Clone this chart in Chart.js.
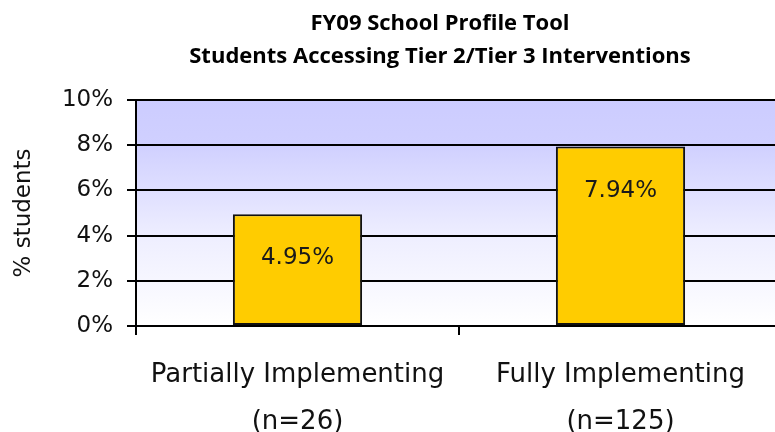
<!DOCTYPE html>
<html>
<head>
<meta charset="utf-8">
<script src="https://cdn.jsdelivr.net/npm/chart.js@4"></script>
<style>
html,body{margin:0;padding:0;background:#fff;overflow:hidden;}
#wrap{width:783px;height:432px;position:relative;}
</style>
</head>
<body>
<div id="wrap"><canvas id="c"></canvas></div>
<script>
const titleLines = ['FY09 School Profile Tool', 'Students Accessing Tier 2/Tier 3 Interventions'];
const categories = [['Partially Implementing', '(n=26)'], ['Fully Implementing', '(n=125)']];
const values = [4.95, 7.94];
const valueLabels = ['4.95%', '7.94%'];
const yTicks = [0, 2, 4, 6, 8, 10];
const yTitle = '% students';

const tickFont = "'DejaVu Sans', sans-serif";

const bgPlugin = {
  id: 'bg',
  beforeDraw(chart) {
    const {ctx, chartArea: a} = chart;
    const g = ctx.createLinearGradient(0, a.top, 0, a.bottom);
    g.addColorStop(0, '#CCCCFF');
    g.addColorStop(0.2, '#D0D0FF');
    g.addColorStop(0.6, '#EEEEFF');
    g.addColorStop(1, '#FFFFFF');
    ctx.save();
    ctx.fillStyle = g;
    ctx.fillRect(a.left, a.top, a.right - a.left, a.bottom - a.top);
    ctx.restore();
  }
};

const labelPlugin = {
  id: 'vlabels',
  afterDatasetsDraw(chart) {
    const {ctx} = chart;
    const meta = chart.getDatasetMeta(0);
    ctx.save();
    ctx.font = "23px " + tickFont;
    ctx.fillStyle = '#1a1a1a';
    ctx.textAlign = 'center';
    ctx.textBaseline = 'middle';
    meta.data.forEach((bar, i) => {
      ctx.fillText(valueLabels[i], bar.x, bar.y + 44);
    });
    ctx.restore();
  }
};

const titlePlugin = {
  id: 'ttl',
  afterDraw(chart) {
    const {ctx} = chart;
    ctx.save();
    ctx.font = "bold 22px 'Open Sans', sans-serif";
    ctx.fillStyle = '#000';
    ctx.textAlign = 'center';
    ctx.textBaseline = 'middle';
    ctx.fillText(titleLines[0], 440, 24);
    ctx.fillText(titleLines[1], 440, 57);
    ctx.restore();
  }
};

new Chart(document.getElementById('c'), {
  type: 'bar',
  data: {
    labels: categories,
    datasets: [{
      data: values,
      backgroundColor: '#FFCC00',
      borderColor: '#111',
      borderWidth: 2,
      borderSkipped: false,
      barPercentage: 0.4,
      categoryPercentage: 1.0
    }]
  },
  options: {
    responsive: true,
    maintainAspectRatio: false,
    animation: false,
    layout: {padding: {left: 0, top: 100, right: 1, bottom: 0}},
    plugins: {legend: {display: false}, tooltip: {enabled: false}, title: {display: false}},
    scales: {
      x: {
        grid: {display: true, offset: true, drawOnChartArea: false, drawTicks: true, tickLength: 9, color: '#000', lineWidth: 2},
        border: {display: true, color: '#000', width: 2},
        ticks: {color: '#111', font: {family: tickFont, size: 26, lineHeight: 1.8}, padding: 17, maxRotation: 0},
        afterFit(s) { s.height = 106; }
      },
      y: {
        min: 0, max: 10,
        afterBuildTicks(s) { s.ticks = yTicks.map(v => ({value: v})); },
        grid: {display: true, color: '#000', lineWidth: 2, tickLength: 9, drawTicks: true},
        border: {display: true, color: '#000', width: 2},
        ticks: {color: '#111', font: {family: tickFont, size: 23}, padding: 14, callback: v => v + '%'},
        title: {display: true, text: yTitle, color: '#111', font: {family: tickFont, size: 23}, padding: {top: 10, bottom: 0}},
        afterFit(s) { s.width = 136; }
      }
    }
  },
  plugins: [bgPlugin, labelPlugin, titlePlugin]
});
</script>
</body>
</html>
